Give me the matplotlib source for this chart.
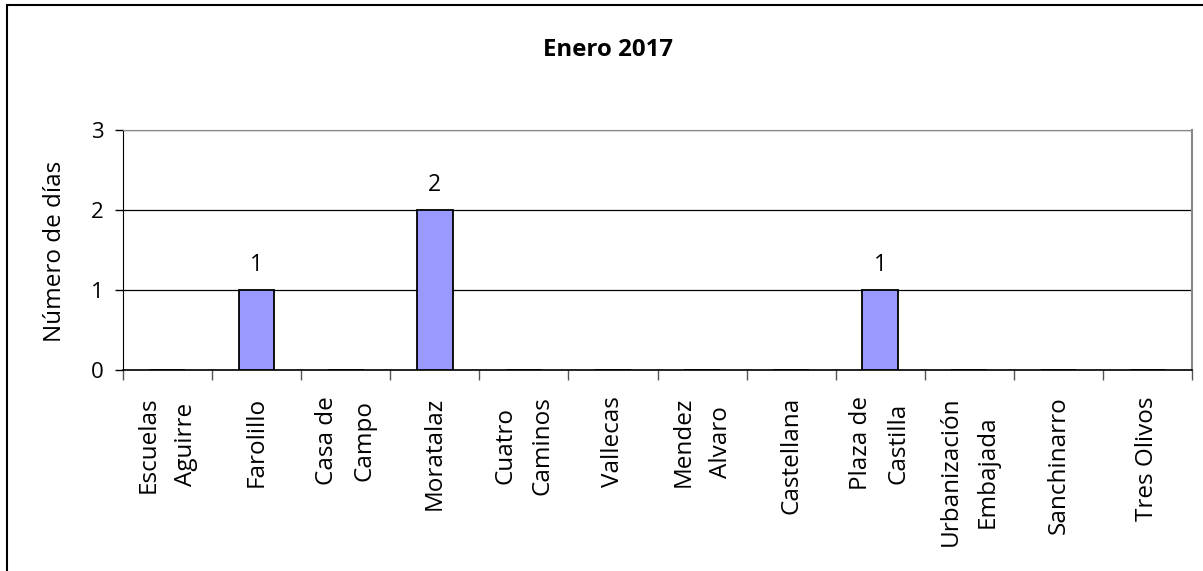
import numpy as np
import matplotlib.pyplot as plt
from matplotlib.patches import Rectangle

# ==================== Data ====================== #

stations = ["Escuelas\nAguirre", "Farolillo", "Casa de\nCampo", "Moratalaz",
            "Cuatro\nCaminos", "Vallecas", "Mendez\nAlvaro", "Castellana",
            "Plaza de\nCastilla", "Urbanización\nEmbajada", "Sanchinarro",
            "Tres Olivos"]
days = [0, 1, 0, 2, 0, 0, 0, 0, 1, 0, 0, 0]
yticks = [0, 1, 2, 3]

# ==================== Plotting ====================== #

plt.rcParams['font.family'] = ['Open Sans', 'DejaVu Sans']

W, H = 1203, 571
fig = plt.figure(figsize=(W / 100, H / 100), dpi=100)
ax = fig.add_axes([123 / W, 1 - 370 / H, (1192 - 123) / W, (370 - 130) / H])

x = np.arange(len(stations))
ax.bar(x, days, width=0.4, color='#9999FF', edgecolor='black',
       linewidth=1.3, zorder=3)
for xi, v in zip(x, days):
    if v > 0:
        ax.text(xi, v + 0.16, str(v), ha='center', va='bottom', fontsize=16.5)

ax.set_xlim(-0.5, len(stations) - 0.5)
ax.set_ylim(0, 3)
ax.set_yticks(yticks)
ax.tick_params(axis='y', labelsize=16, length=6, width=1, pad=8)
ax.grid(axis='y', color='black', linewidth=0.9, zorder=0)

# ticks between categories, labels centered on categories
ax.set_xticks(np.arange(len(stations) + 1) - 0.5)
ax.set_xticklabels([])
ax.tick_params(axis='x', length=7, width=1, color='#555555')
for xi, name in zip(x, stations):
    ax.text(xi, -0.33, name, rotation=90, ha='center', va='top',
            multialignment='center', fontsize=17.5, linespacing=1.75)

ax.spines['left'].set_color('black')
ax.spines['bottom'].set_color('black')
ax.spines['bottom'].set_linewidth(1.2)
ax.spines['top'].set_color('#888888')
ax.spines['right'].set_color('#888888')
ax.spines['right'].set_linewidth(1.5)

fig.text(55 / W, 1 - 251 / H, "Número de días", rotation=90, ha='center',
         va='center', fontsize=17.5)
fig.text(608 / W, 1 - 50 / H, "Enero 2017", ha='center', va='center',
         fontsize=17.3, fontweight='bold')

# outer chart border
fig.patches.append(Rectangle((7 / W, -0.1), 1.2, 1 - 5 / H + 0.1,
                             transform=fig.transFigure, fill=False,
                             edgecolor='black', linewidth=1.5))

fig.savefig("out.png", dpi=100)
